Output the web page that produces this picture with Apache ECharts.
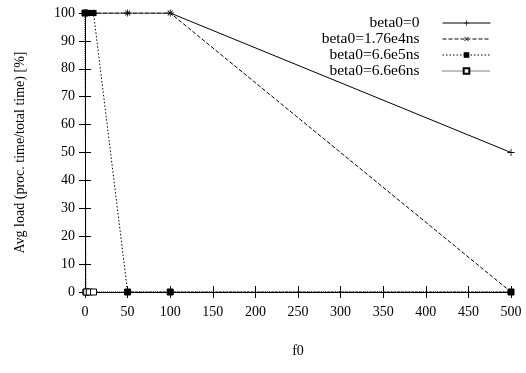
<!DOCTYPE html>
<html><head><meta charset="utf-8">
<script src="https://cdn.jsdelivr.net/npm/echarts@6/dist/echarts.min.js"></script>
<style>html,body{margin:0;padding:0;background:#fff}#c{width:526px;height:373px}</style>
</head><body><div id="c"></div>
<script>
const f0 = [0, 1, 2, 5, 10, 50, 100, 500];
const seriesNames = ['beta0=0', 'beta0=1.76e4ns', 'beta0=6.6e5ns', 'beta0=6.6e6ns'];
const load_beta0_0 = [100, 100, 100, 100, 100, 100, 100, 50];
const load_beta0_176e4 = [100, 100, 100, 100, 100, 100, 100, 0];
const load_beta0_66e5 = [100, 100, 100, 100, 100, 0, 0, 0];
const load_beta0_66e6 = [100, 0, 0, 0, 0, 0, 0, 0];
const xTicks = [0, 50, 100, 150, 200, 250, 300, 350, 400, 450, 500];
const yTicks = [0, 10, 20, 30, 40, 50, 60, 70, 80, 90, 100];

const FONT = 'Liberation Serif';
const plusPath = 'path://M4.4,0H5.6V4.4H10V5.6H5.6V10H4.4V5.6H0V4.4H4.4Z';
const values = [load_beta0_0, load_beta0_176e4, load_beta0_66e5, load_beta0_66e6];
const styles = [
  {type: 'solid', symbol: plusPath, rot: 0, size: 7, fill: '#000', z: 4},
  {type: [4, 2], symbol: plusPath, rot: 45, size: 7, fill: '#000', z: 3},
  {type: [1.5, 2], symbol: 'rect', rot: 0, size: 6, fill: '#000', z: 5},
  {type: [1, 1], symbol: 'rect', rot: 0, size: 6, fill: '#fff', z: 2}
];
const series = seriesNames.map((n, i) => ({
  name: n, type: 'line', xAxisIndex: 0, yAxisIndex: 0, z: styles[i].z,
  data: f0.map((x, j) => [x, values[i][j]]),
  symbol: styles[i].symbol, symbolRotate: styles[i].rot, symbolSize: styles[i].size,
  showAllSymbol: true, animation: false,
  lineStyle: {color: '#000', width: 1, type: styles[i].type},
  itemStyle: {color: styles[i].fill, borderColor: '#000', borderWidth: i === 3 ? 1 : 0}
}));
const axisCommon = {
  axisLine: {show: true, lineStyle: {color: '#000', width: 1}},
  axisTick: {show: true, inside: true, length: 6, lineStyle: {color: '#000'}},
  splitLine: {show: false}
};
const chart = echarts.init(document.getElementById('c'), null, {renderer: 'canvas'});
chart.setOption({
  backgroundColor: '#fff',
  animation: false,
  grid: {left: 85, right: 15, top: 13, bottom: 81, containLabel: false},
  legend: {
    orient: 'vertical', right: 30, top: 10, align: 'right',
    itemWidth: 48, itemHeight: 7, itemGap: 0,
    data: seriesNames,
    lineStyle: {width: 1},
    textStyle: {fontFamily: FONT, fontSize: 15.5, color: '#000', width: 120, align: 'right', padding: [0, 18, 0, 0]},
    inactiveColor: '#000'
  },
  xAxis: [
    Object.assign({type: 'value', min: 0, max: 500, interval: 50, position: 'bottom',
      name: 'f0', nameLocation: 'middle', nameGap: 52,
      nameTextStyle: {fontFamily: FONT, fontSize: 14, color: '#000'},
      axisLabel: {fontFamily: FONT, fontSize: 14, color: '#000', margin: 13,
        formatter: v => xTicks.includes(v) ? String(v) : ''}}, axisCommon),
    Object.assign({type: 'value', min: 0, max: 500, interval: 50, position: 'top',
      axisLabel: {show: false}}, axisCommon)
  ],
  yAxis: [
    Object.assign({type: 'value', min: 0, max: 100, interval: 10, position: 'left',
      name: 'Avg load (proc. time/total time) [%]', nameLocation: 'middle', nameGap: 58,
      nameTextStyle: {fontFamily: FONT, fontSize: 14, color: '#000'},
      axisLabel: {fontFamily: FONT, fontSize: 14, color: '#000', margin: 10,
        formatter: v => yTicks.includes(v) ? String(v) : ''}}, axisCommon),
    Object.assign({type: 'value', min: 0, max: 100, interval: 10, position: 'right',
      axisLabel: {show: false}}, axisCommon)
  ],
  series: series
});
</script></body></html>
